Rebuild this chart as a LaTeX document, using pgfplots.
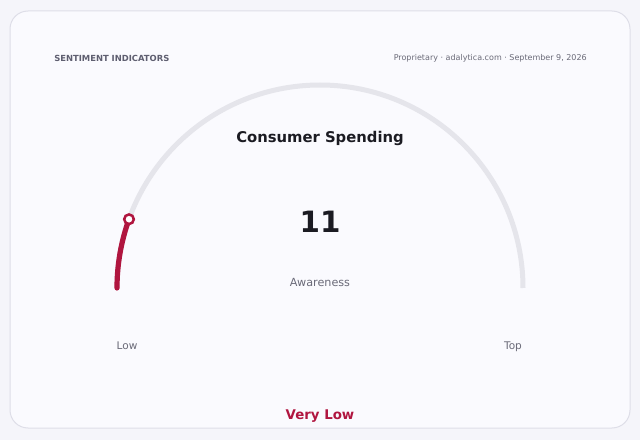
\documentclass[border=0pt]{standalone}
\usepackage{fontspec}
\setmainfont{DejaVu Sans}
\usepackage{pgfplots}
\pgfplotsset{compat=1.18}

\definecolor{pagebg}{HTML}{F5F5FA}
\definecolor{cardbg}{HTML}{FAFAFE}
\definecolor{cardline}{HTML}{DEDEE8}
\definecolor{track}{HTML}{E5E5EB}
\definecolor{accent}{HTML}{B0153F}
\definecolor{ink}{HTML}{1B1B22}
\definecolor{muted}{HTML}{5E5E70}
\definecolor{soft}{HTML}{6A6A78}

% gauge reading (0--100) and its angle on the half circle
\def\gaugevalue{11}
\pgfmathsetmacro{\gaugeangle}{180-1.8*\gaugevalue}

\begin{document}
\begin{tikzpicture}
\begin{axis}[
    width=480pt, height=330pt, scale only axis,
    xmin=-320, xmax=320, ymin=-152, ymax=288,
    hide axis, clip=false
]
% page and card
\fill[pagebg] (axis cs:-320,-152) rectangle (axis cs:320,288);
\draw[cardline, fill=cardbg, line width=0.75pt, rounded corners=13.5pt]
    (axis cs:-310,-140) rectangle (axis cs:310,277);

% track and value arc (radius 203 units = 152.25pt)
\draw[track, line width=3.75pt] (axis cs:-203,0) arc[start angle=180, end angle=0, radius=152.25pt];
\draw[accent, line width=3.9pt, line cap=round] (axis cs:-203,0) arc[start angle=180, end angle=\gaugeangle, radius=152.25pt];

\addplot[only marks, data cs=polar, mark=*, mark size=3.6pt,
    mark options={fill=white, draw=accent, line width=1.9pt}]
    coordinates {(160.2,203)};

% texts
\node[anchor=west, inner sep=0pt, font=\bfseries\fontsize{6.3}{7}\selectfont, text=muted] at (axis cs:-266,229.5) {SENTIMENT INDICATORS};
\node[anchor=east, inner sep=0pt, font=\fontsize{6}{7}\selectfont, text=soft] at (axis cs:267,229.5) {Proprietary · adalytica.com · September 9, 2026};
\node[font=\bfseries\fontsize{11.1}{13}\selectfont, text=ink] at (axis cs:0,149.5) {Consumer Spending};
\node[font=\bfseries\fontsize{22}{24}\selectfont, text=ink] at (axis cs:0,66) {11};
\node[font=\fontsize{8.4}{10}\selectfont, text=soft] at (axis cs:0,5.5) {Awareness};
\node[anchor=base, font=\fontsize{7.9}{9}\selectfont, text=soft] at (axis cs:-193,-61.5) {Low};
\node[anchor=base, font=\fontsize{7.9}{9}\selectfont, text=soft] at (axis cs:193,-61.5) {Top};
\node[font=\bfseries\fontsize{10}{12}\selectfont, text=accent] at (axis cs:0,-128) {Very Low};
\end{axis}
\end{tikzpicture}
\end{document}
